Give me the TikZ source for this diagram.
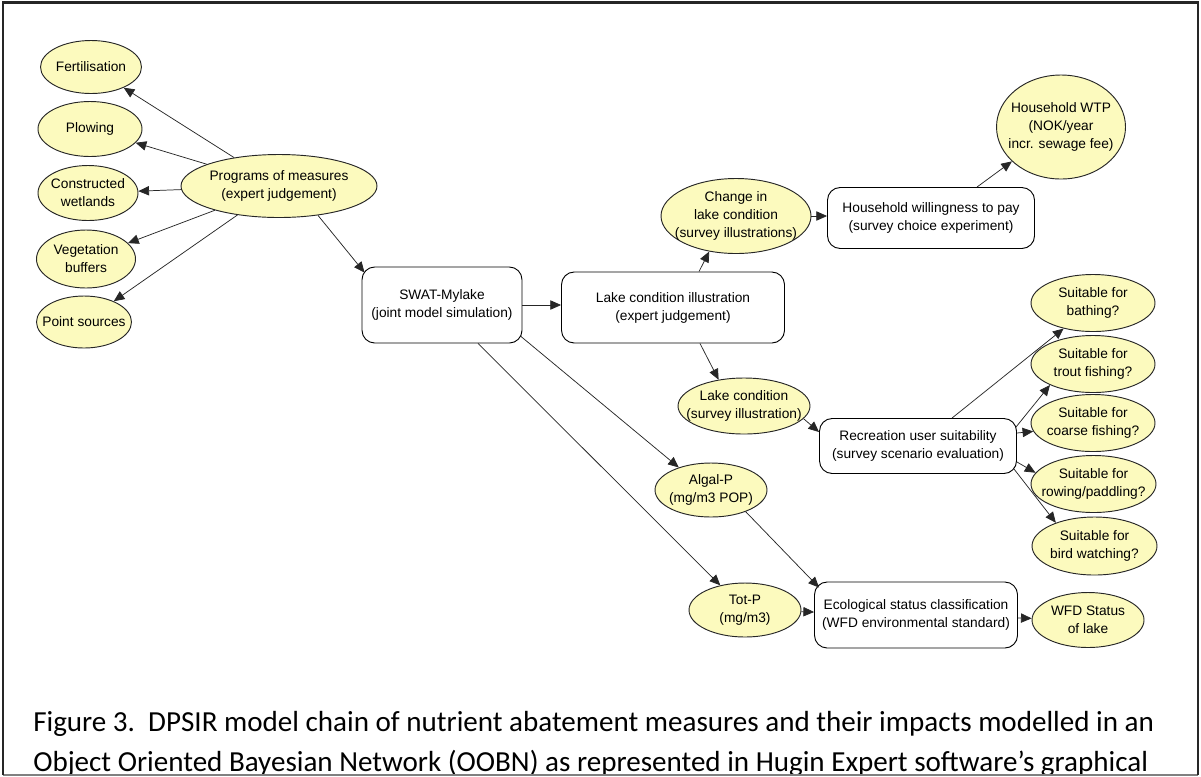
\documentclass[tikz,border=0pt]{standalone}
\usepackage{fontspec}
\setmainfont{Liberation Sans}
\newfontfamily\capfont{Carlito}
\usetikzlibrary{shapes.geometric,arrows.meta,calc}
\definecolor{nodeyellow}{RGB}{252,250,190}
\newcommand\ellnode[5]{\node[ell={#3}{#4}, label={[nfont,align=center,inner sep=0pt]center:#5}] (#1) at (#2) {};}
\begin{document}
\begin{tikzpicture}[x=0.75pt,y=-0.75pt,
  nfont/.style={font=\fontsize{10.3}{13.5}\selectfont},
  ell/.style 2 args={ellipse, draw=black!85, line width=0.7pt, fill=nodeyellow, inner sep=0pt, minimum width=#1*0.75pt, minimum height=#2*0.75pt},
  rbox/.style 2 args={rectangle, rounded corners=9.5pt, draw=black, line width=0.7pt, fill=white, inner sep=0pt, align=center, minimum width=#1*0.75pt, minimum height=#2*0.75pt, nfont},
  arr/.style={draw=black!85, line width=0.55pt, -{Triangle[length=8pt,width=7pt]}},
  capstyle/.style={anchor=base west, inner sep=0pt, font=\capfont\fontsize{21.8}{27}\selectfont}]
\useasboundingbox (0,0) rectangle (1201,776);
\fill[white] (0,0) rectangle (1201,776);

% left ellipses
\ellnode{fert}{91,67}{101}{53}{Fertilisation}
\ellnode{plow}{90,129}{104}{55}{Plowing}
\ellnode{cw}{88,193}{100}{55}{Constructed\\wetlands}
\ellnode{veg}{86,259}{99}{58}{Vegetation\\buffers}
\ellnode{ps}{84,322}{95}{52}{Point sources}
\ellnode{prog}{279,186}{196}{63}{Programs of measures\\(expert judgement)}

% boxes
\node[rbox={160}{76}] (swat) at (442,305) {SWAT-Mylake\\(joint model simulation)};
\node[rbox={223}{71}] (lci) at (673,307.5) {Lake condition illustration\\(expert judgement)};
\node[rbox={207}{61}] (hwp) at (931,218) {Household willingness to pay\\(survey choice experiment)};
\node[rbox={197}{55}] (rec) at (918,446) {Recreation user suitability\\(survey scenario evaluation)};
\node[rbox={203}{66}] (eco) at (916,615) {Ecological status classification\\(WFD environmental standard)};

% other ellipses
\ellnode{chg}{736,216}{150}{75}{Change in\\lake condition\\(survey illustrations)}
\ellnode{wtp}{1061,127}{129}{104}{Household WTP\\(NOK/year\\incr. sewage fee)}
\ellnode{lc}{744,406}{132}{56}{Lake condition\\(survey illustration)}
\ellnode{algal}{711,490}{112}{54}{Algal-P\\(mg/m3 POP)}
\ellnode{tot}{745,610}{112}{54}{Tot-P\\(mg/m3)}
\ellnode{wfd}{1088,620}{112}{55}{WFD Status\\of lake}
\ellnode{bath}{1093,303}{124}{57}{Suitable for\\bathing?}
\ellnode{trout}{1093,364}{124}{57}{Suitable for\\trout fishing?}
\ellnode{coarse}{1093,423}{124}{57}{Suitable for\\coarse fishing?}
\ellnode{row}{1093.5,484}{125}{57}{Suitable for\\rowing/paddling?}
\ellnode{bird}{1094.5,546}{125}{58}{Suitable for\\bird watching?}

% connectors
\draw[arr] (prog) -- (fert);
\draw[arr] (prog) -- (plow);
\draw[arr] (prog) -- (cw);
\draw[arr] (prog) -- (veg);
\draw[arr] (prog) -- (ps);
\draw[arr] (prog.-37) -- ($(swat.north west)+(3,6)$);
\draw[arr] (swat.east) -- (swat.east -| lci.west);
\draw[arr] ($(lci.north)+(26,0)$) -- (chg.-127);
\draw[arr] (chg.east) -- (chg.east -| hwp.west);
\draw[arr] ($(hwp.north)+(46,0)$) -- (wtp.-145);
\draw[arr] ($(lci.south)+(27,0)$) -- (lc.134);
\draw[arr] (lc.-12) -- ($(rec.north west)+(0,14)$);
\draw[arr] ($(swat.south east)+(-1.5,-7)$) -- (algal.145);
\draw[arr] ($(swat.south)+(36,0)$) -- (tot.135);
\draw[arr] (algal.-32) -- ($(eco.north west)+(5,6)$);
\draw[arr] (tot) -- (eco);
\draw[arr] (eco) -- (wfd);
\draw[arr] ($(rec.north)+(34,0)$) -- (bath.-139);
\draw[arr] ($(rec.north east)+(-1,9)$) -- (trout.-154);
\draw[arr] ($(rec.east)+(0,-13)$) -- (coarse.-172);
\draw[arr] ($(rec.east)+(0,16)$) -- (row.169);
\draw[arr] ($(rec.south east)+(-3,-5)$) -- (bird.149);

% caption
\begin{scope}
\clip (3,660) rectangle (1198,774);
\node[capstyle] (cap1) at (33,731) {Figure 3.~~DPSIR model chain of nutrient abatement measures and their impacts modelled in an};
\node[capstyle] (cap2) at (33,771) {Object Oriented Bayesian Network (OOBN) as represented in Hugin Expert software’s graphical};
\end{scope}

% frame
\draw[gray, line width=0.9pt] (3,775) -- (1198,775);
\draw[black!85, line width=1.6pt] (3,775) -- (3,2.5) -- (1198,2.5) -- (1198,775);
\end{tikzpicture}
\end{document}
